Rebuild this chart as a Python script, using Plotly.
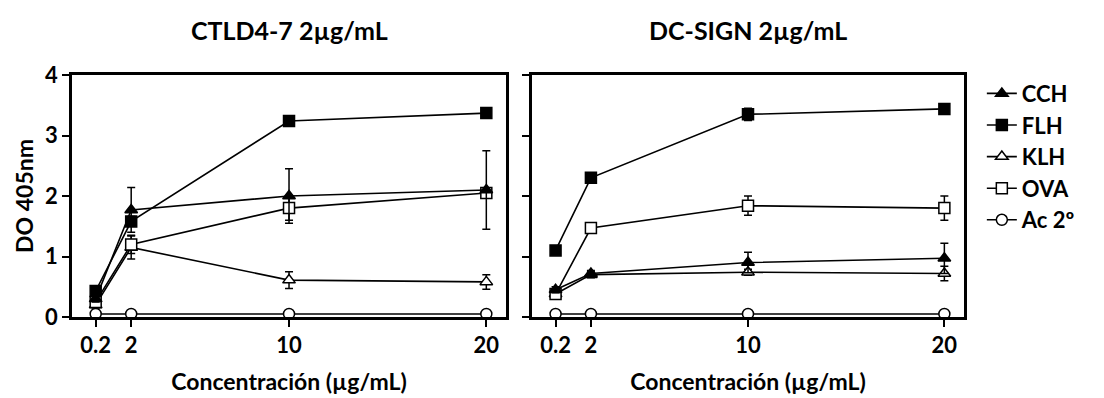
import plotly.graph_objects as go

conc = [0.2, 2, 10, 20]
series = ["CCH", "FLH", "KLH", "OVA", "Ac 2º"]

# CTLD4-7 panel
ctld_cch = [0.30, 1.77, 2.00, 2.10]
ctld_flh = [0.43, 1.58, 3.24, 3.37]
ctld_klh = [0.20, 1.15, 0.61, 0.58]
ctld_ova = [0.25, 1.20, 1.80, 2.05]
ctld_ac = [0.05, 0.05, 0.05, 0.05]
ctld_cch_err = [0.05, 0.37, 0.45, 0.65]
ctld_flh_err = [0.05, 0.08, 0.05, 0.08]
ctld_klh_err = [0.05, 0.19, 0.14, 0.12]
ctld_ova_err = [0.05, 0.15, 0.20, 0.05]
ctld_ac_err = [0, 0, 0, 0]

# DC-SIGN panel
dc_cch = [0.45, 0.72, 0.90, 0.97]
dc_flh = [1.10, 2.30, 3.35, 3.44]
dc_klh = [0.38, 0.70, 0.74, 0.72]
dc_ova = [0.38, 1.47, 1.84, 1.80]
dc_ac = [0.05, 0.05, 0.05, 0.05]
dc_cch_err = [0.05, 0.05, 0.17, 0.25]
dc_flh_err = [0.05, 0.05, 0.10, 0.07]
dc_klh_err = [0.05, 0.05, 0.05, 0.12]
dc_ova_err = [0.05, 0.05, 0.16, 0.20]
dc_ac_err = [0, 0, 0, 0]

styles = {
    "CCH": dict(symbol="triangle-up", color="black"),
    "FLH": dict(symbol="square", color="black"),
    "KLH": dict(symbol="triangle-up", color="white"),
    "OVA": dict(symbol="square", color="white"),
    "Ac 2º": dict(symbol="circle", color="white"),
}

panels = [
    ("x", "y", [ctld_cch, ctld_flh, ctld_klh, ctld_ova, ctld_ac],
     [ctld_cch_err, ctld_flh_err, ctld_klh_err, ctld_ova_err, ctld_ac_err]),
    ("x2", "y2", [dc_cch, dc_flh, dc_klh, dc_ova, dc_ac],
     [dc_cch_err, dc_flh_err, dc_klh_err, dc_ova_err, dc_ac_err]),
]

fig = go.Figure()
order = [4, 2, 3, 0, 1]
for pi, (xa, ya, vals, errs) in enumerate(panels):
    for i in order:
        name = series[i]
        st = styles[name]
        fig.add_trace(go.Scatter(
            x=conc, y=vals[i], xaxis=xa, yaxis=ya, name=name,
            legendrank=i + 1,
            mode="lines+markers", showlegend=(pi == 0),
            line=dict(color="black", width=1.6),
            marker=dict(symbol=st["symbol"], size=11, color=st["color"],
                        line=dict(color="black", width=1.5)),
            error_y=dict(type="data", array=errs[i], visible=True,
                         color="black", thickness=1.5, width=4),
            cliponaxis=False,
        ))

font_family = "Lato, 'Open Sans', sans-serif"
xcommon = dict(range=[-1, 21], tickvals=conc, ticktext=["0.2", "2", "10", "20"],
               ticks="outside", ticklen=7, tickwidth=2, tickcolor="black",
               showline=True, linewidth=2.5, linecolor="black", mirror=True,
               showgrid=False, zeroline=False, automargin=False,
               tickfont=dict(family=font_family, size=22, color="black", weight="bold"),
               title=dict(text="<b>Concentración (µg/mL)</b>", standoff=17,
                          font=dict(family=font_family, size=23, color="black")))
ycommon = dict(range=[0, 4], tickvals=[0, 1, 2, 3, 4],
               ticks="outside", ticklen=7, tickwidth=2, tickcolor="black",
               showline=True, linewidth=2.5, linecolor="black", mirror=True,
               showgrid=False, zeroline=False, automargin=False,
               tickfont=dict(family=font_family, size=22, color="black", weight="bold"))

fig.update_layout(
    width=1104, height=398,
    margin=dict(l=64, r=148, t=67, b=89),
    paper_bgcolor="white", plot_bgcolor="white",
    font=dict(family=font_family, color="black"),
    xaxis=dict(domain=[0, 0.4866], **xcommon),
    xaxis2=dict(domain=[0.5157, 1], anchor="y2", **xcommon),
    yaxis=dict(anchor="x", title=dict(text="<b>DO 405nm</b>", standoff=6,
               font=dict(family=font_family, size=23, color="black")), **ycommon),
    yaxis2=dict(anchor="x2", showticklabels=False, **ycommon),
    legend=dict(x=1.02, y=1.01, xanchor="left", yanchor="top",
                font=dict(family=font_family, size=22, color="black", weight="bold"),
                tracegroupgap=0, itemwidth=30, bgcolor="rgba(0,0,0,0)"),
    annotations=[
        dict(text="<b>CTLD4-7 2µg/mL</b>", x=0.2433, y=1.0, xref="paper", yref="paper",
             xanchor="center", yanchor="middle", yshift=45, showarrow=False,
             font=dict(family=font_family, size=25, color="black")),
        dict(text="<b>DC-SIGN 2µg/mL</b>", x=0.7578, y=1.0, xref="paper", yref="paper",
             xanchor="center", yanchor="middle", yshift=45, showarrow=False,
             font=dict(family=font_family, size=25, color="black")),
    ],
)

fig.write_html("out.html")
